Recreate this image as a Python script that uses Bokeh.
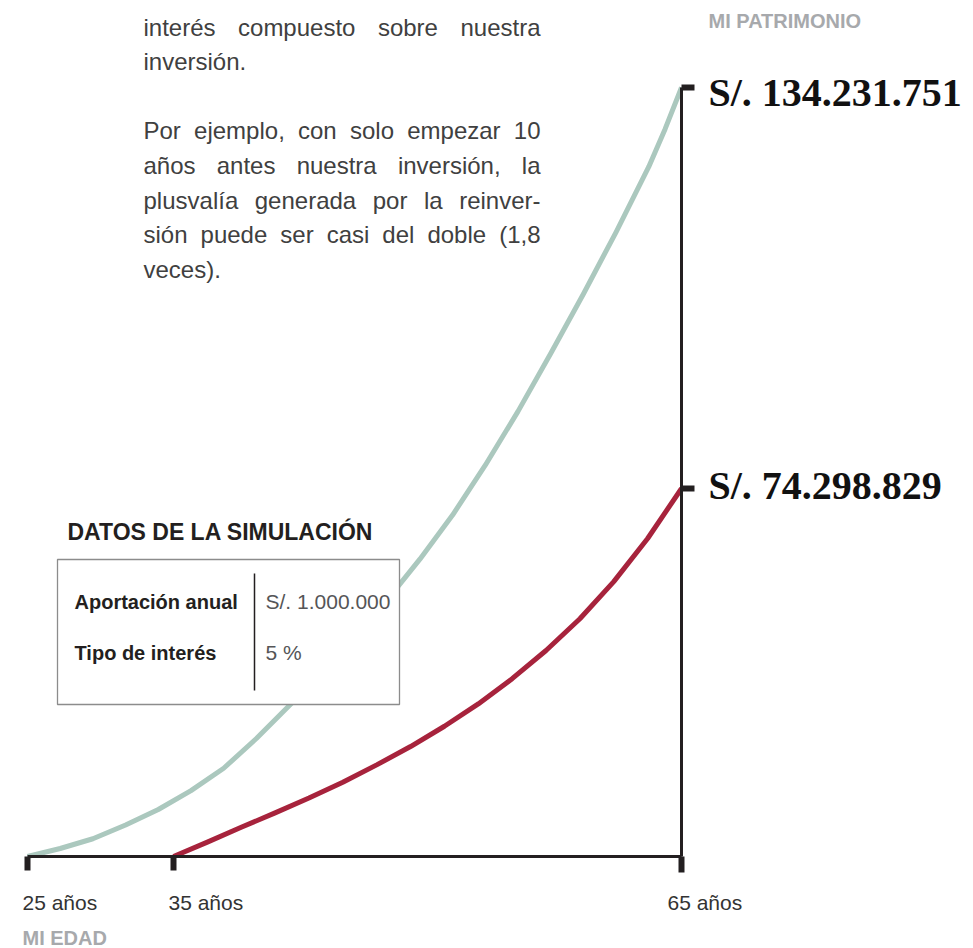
from bokeh.plotting import figure
from bokeh.models import Range1d
from bokeh.embed import file_html
from bokeh.resources import INLINE
from bokeh.core.properties import value

# ---------------- data ----------------
green_ages = [25, 27, 29, 31, 33, 35, 37, 39, 41, 43, 45, 47, 49, 51, 53, 55, 57, 59, 61, 63, 64, 65]
green_values = [0, 1.4e6, 3.1e6, 5.5e6, 8.2e6, 11.5e6, 15.4e6, 20.6e6, 26.3e6, 32.0e6,
                38.2e6, 44.8e6, 51.9e6, 59.6e6, 68.3e6, 77.7e6, 87.8e6, 98.2e6,
                109.0e6, 120.4e6, 127.0e6, 134231751]
red_ages = [35, 37, 39, 41, 43, 45, 47, 49, 51, 53, 55, 57, 59, 61, 63, 65]
red_values = [0, 2.9e6, 5.9e6, 8.8e6, 11.8e6, 15.0e6, 18.5e6, 22.2e6, 26.3e6, 30.8e6,
              35.9e6, 41.6e6, 48.0e6, 55.5e6, 64.2e6, 74298829]

green_start_age = 25
red_start_age = 35
end_age = 65
age_suffix = " años"

table_labels = ["Aportación anual", "Tipo de interés"]
table_values = ["S/. 1.000.000", "5 %"]
table_title = "DATOS DE LA SIMULACIÓN"
y_title = "MI PATRIMONIO"
x_title = "MI EDAD"

paragraph = [
    ("interés compuesto sobre nuestra", True),
    ("inversión.", False),
    ("", False),
    ("Por ejemplo, con solo empezar 10", True),
    ("años antes nuestra inversión, la", True),
    ("plusvalía generada por la reinver-", True),
    ("sión puede ser casi del doble (1,8", True),
    ("veces).", False),
]


def money(v):
    return "S/. " + f"{int(v):,}".replace(",", ".")


# ---------------- layout ----------------
W_PX, H_PX = 973, 948
PX_G0, PX_END, PX_R0 = 27, 681, 173
PX_BASE, PX_TOP_G, PX_TOP_R = 856, 87, 488

SANS = value("Liberation Sans")
SERIF = value("Liberation Serif")
INK = "#231f20"
GREEN = "#abc8be"
RED = "#a7233c"
GREY = "#a7a9ac"


def lin_range(v0, p0, v1, p1, pa, pb):
    k = (v1 - v0) / (p1 - p0)
    return Range1d(v0 + (pa - p0) * k, v0 + (pb - p0) * k)


p = figure(width=W_PX, height=H_PX, x_range=Range1d(0, W_PX), y_range=Range1d(H_PX, 0),
           output_backend="svg", toolbar_location=None,
           x_axis_location=None, y_axis_location=None, min_border=0)
p.outline_line_color = None
p.background_fill_color = "white"
p.border_fill_color = "white"
p.xgrid.visible = False
p.ygrid.visible = False

g_end, r_end = green_values[-1], red_values[-1]
p.extra_x_ranges = {
    "gx": lin_range(green_ages[0], PX_G0, green_ages[-1], PX_END, 0, W_PX),
    "rx": lin_range(red_ages[0], PX_R0, red_ages[-1], PX_END, 0, W_PX),
}
p.extra_y_ranges = {
    "gy": lin_range(0, PX_BASE, g_end, PX_TOP_G, H_PX, 0),
    "ry": lin_range(0, PX_BASE, r_end, PX_TOP_R, H_PX, 0),
}
k_gy = g_end / (PX_BASE - PX_TOP_G)      # value per px
k_ry = r_end / (PX_BASE - PX_TOP_R)
k_gx = (green_ages[-1] - green_ages[0]) / (PX_END - PX_G0)
k_rx = (red_ages[-1] - red_ages[0]) / (PX_END - PX_R0)

G = dict(x_range_name="gx", y_range_name="gy")
R = dict(x_range_name="rx", y_range_name="ry")

# curves
p.line(green_ages, green_values, line_color=GREEN, line_width=5, line_join="round", **G)
p.line(red_ages, red_values, line_color=RED, line_width=5, line_join="round", **R)

# axes
p.segment(x0=[green_start_age], y0=[0], x1=[end_age], y1=[0], line_color=INK, line_width=3, **G)
p.segment(x0=[end_age], y0=[0], x1=[end_age], y1=[g_end], line_color=INK, line_width=3, **G)
# x ticks (downwards)
p.segment(x0=[green_start_age, end_age], y0=[0, 0], x1=[green_start_age, end_age],
          y1=[-14 * k_gy, -16 * k_gy], line_color=INK, line_width=6, **G)
p.segment(x0=[red_start_age], y0=[0], x1=[red_start_age], y1=[-14 * k_ry],
          line_color=INK, line_width=6, **R)
# y ticks (to the right)
p.segment(x0=[end_age], y0=[g_end], x1=[end_age + 13 * k_gx], y1=[g_end],
          line_color=INK, line_width=6, **G)
p.segment(x0=[end_age], y0=[r_end], x1=[end_age + 13 * k_rx], y1=[r_end],
          line_color=INK, line_width=6, **R)

# tick labels
tick_kw = dict(text_font=SANS, text_font_size=value("21px"), text_color="#333333",
               text_baseline="middle", text_align="left", y_offset=46)
p.text(x=[green_start_age], y=[0], text=[f"{green_start_age}{age_suffix}"], x_offset=-5, **tick_kw, **G)
p.text(x=[red_start_age], y=[0], text=[f"{red_start_age}{age_suffix}"], x_offset=-5, **tick_kw, **R)
p.text(x=[end_age], y=[0], text=[f"{end_age}{age_suffix}"], x_offset=-14, **tick_kw, **G)

# end value labels
val_kw = dict(text_font=SERIF, text_font_style="bold", text_font_size=value("40px"),
              text_color="#111111", text_baseline="middle", text_align="left", x_offset=27)
p.text(x=[end_age], y=[g_end], text=[money(g_end)], y_offset=5, **val_kw, **G)
p.text(x=[end_age], y=[r_end], text=[money(r_end)], y_offset=-3, **val_kw, **R)

# axis titles
title_kw = dict(text_font=SANS, text_font_style="bold", text_font_size=value("20px"),
                text_color=GREY, text_baseline="middle", text_align="left")
p.text(x=[708], y=[20], text=[y_title], **title_kw)
p.text(x=[22], y=[937], text=[x_title], **title_kw)

# simulation box
p.text(x=[67], y=[531], text=[table_title], text_font=SANS, text_font_style="bold",
       text_font_size=value("23px"), text_color=INK, text_baseline="middle")
p.quad(left=[57], right=[399], top=[559], bottom=[704], fill_color="white",
       line_color="#8c8c8c", line_width=1.3)
p.segment(x0=[254], y0=[573], x1=[254], y1=[690], line_color=INK, line_width=1.5)
rows_y = [601 + 51 * i for i in range(len(table_labels))]
p.text(x=[74] * len(table_labels), y=rows_y, text=table_labels, text_font=SANS,
       text_font_style="bold", text_font_size=value("20px"), text_color=INK,
       text_baseline="middle")
p.text(x=[265] * len(table_values), y=rows_y, text=table_values, text_font=SANS,
       text_font_size=value("21px"), text_color="#555557", text_baseline="middle")

# justified paragraph
CW = {' ': 278, ',': 278, '.': 278, '(': 333, ')': 333, '-': 333,
      'a': 556, 'b': 556, 'c': 500, 'd': 556, 'e': 556, 'f': 278, 'g': 556, 'h': 556,
      'i': 222, 'j': 222, 'k': 500, 'l': 222, 'm': 833, 'n': 556, 'o': 556, 'p': 556,
      'q': 556, 'r': 333, 's': 500, 't': 278, 'u': 556, 'v': 500, 'w': 722, 'x': 500,
      'y': 500, 'z': 500, 'á': 556, 'é': 556, 'í': 278, 'ó': 556, 'ñ': 556, 'P': 667}
FS = 24


def tw(s):
    return sum(CW.get(c, 556) for c in s) / 1000 * FS


PL, PR = 143, 540
wx, wy, wt = [], [], []
for i, (line, just) in enumerate(paragraph):
    if not line:
        continue
    mid = 26.5 + i * 34.6
    if just:
        words = line.split(" ")
        widths = [tw(w) for w in words]
        gap = (PR - PL - sum(widths)) / (len(words) - 1)
        x = PL
        for w, wd in zip(words, widths):
            wx.append(x); wy.append(mid); wt.append(w)
            x += wd + gap
    else:
        wx.append(PL); wy.append(mid); wt.append(line)
p.text(x=wx, y=wy, text=wt, text_font=SANS, text_font_size=value(f"{FS}px"),
       text_color="#404040", text_baseline="middle", text_align="left")

open("out.html", "w").write(file_html(p, INLINE))
